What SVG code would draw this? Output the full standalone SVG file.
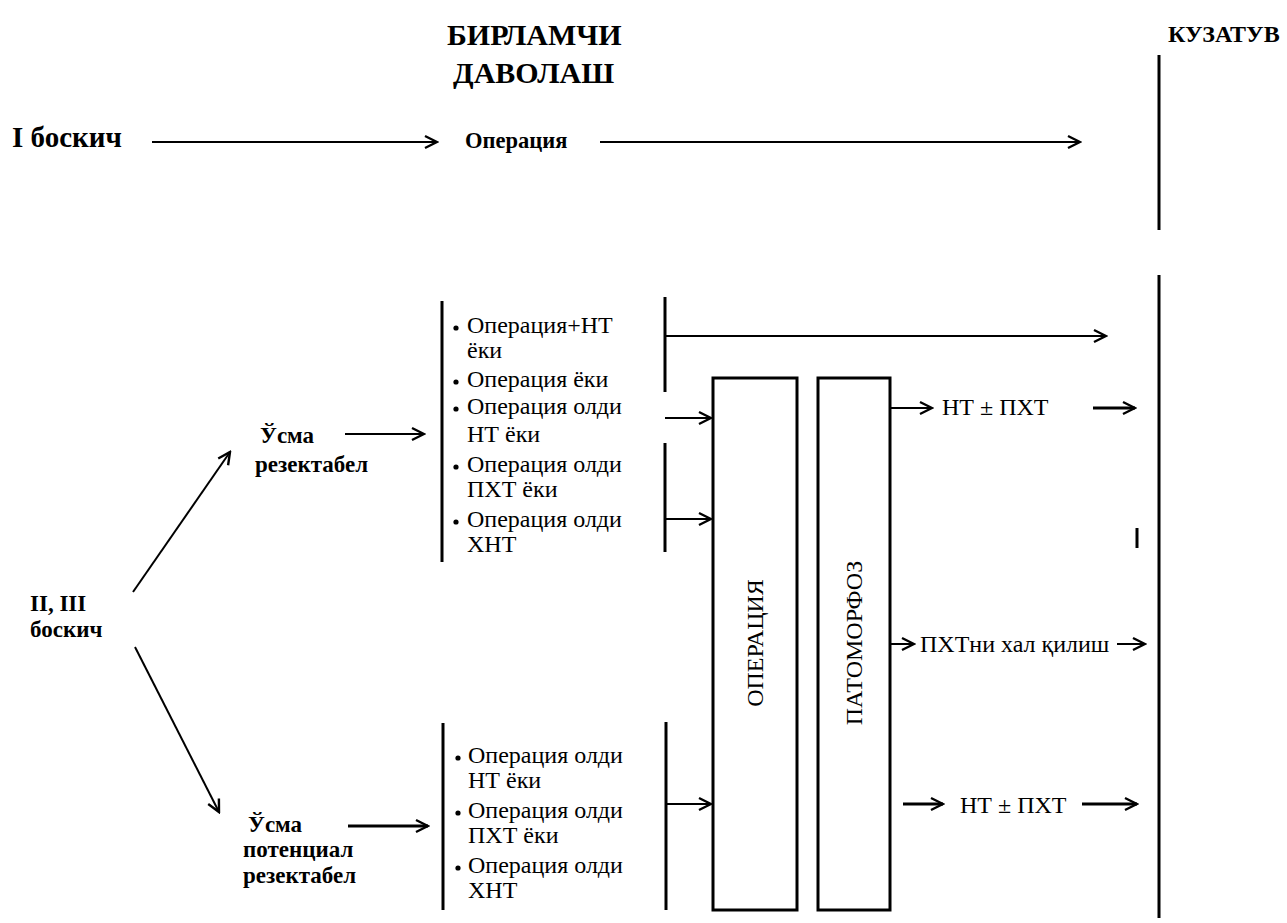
<svg xmlns="http://www.w3.org/2000/svg" width="1287" height="923" viewBox="0 0 1287 923">
<style>
text{font-family:"Liberation Serif","Times New Roman","DejaVu Serif",serif;fill:#000}
.b{font-weight:bold}
.r{font-size:24px}
.ln{stroke:#000;stroke-width:2;fill:none}
.lt{stroke:#000;stroke-width:3;fill:none}
.bar{stroke:#000;stroke-width:3;fill:none}
.box{stroke:#000;stroke-width:3;fill:#fff}
</style>
<defs>
<marker id="ah" viewBox="0 0 16 16" refX="14" refY="8" markerWidth="16" markerHeight="16" markerUnits="userSpaceOnUse" orient="auto">
<path d="M2,2 L14,8 L2,14" fill="none" stroke="#000" stroke-width="2.4"/>
</marker>
</defs>
<rect width="1287" height="923" fill="#fff"/>

<g id="title">
<text class="b" x="447" y="45" font-size="30">БИРЛАМЧИ</text>
<text class="b" x="453" y="83" font-size="30">ДАВОЛАШ</text>
</g>
<g id="kuzatuv">
<text class="b" x="1168" y="42" font-size="24">КУЗАТУВ</text>
</g>
<g id="stage1">
<text class="b" x="12" y="147" font-size="29">І боскич</text>
</g>
<g id="op-top">
<text class="b" x="465" y="148" font-size="22.5">Операция</text>
</g>
<g id="stage23">
<text class="b" x="30" y="611" font-size="23">ІІ, ІІІ</text>
<text class="b" x="30" y="637" font-size="23">боскич</text>
</g>
<g id="resectable">
<text class="b" x="260" y="443" font-size="23">Ўсма</text>
<text class="b" x="255" y="472" font-size="23">резектабел</text>
</g>
<g id="potential">
<text class="b" x="248" y="832" font-size="23">Ўсма</text>
<text class="b" x="243" y="857" font-size="23">потенциал</text>
<text class="b" x="243" y="883" font-size="23">резектабел</text>
</g>
<g id="list-top">
<circle cx="456" cy="328" r="2.6"/>
<text class="r" x="467" y="333">Операция+НТ</text>
<text class="r" x="467" y="358">ёки</text>
<circle cx="456" cy="382" r="2.6"/>
<text class="r" x="467" y="387">Операция ёки</text>
<circle cx="456" cy="409" r="2.6"/>
<text class="r" x="467" y="414">Операция олди</text>
<text class="r" x="467" y="442">НТ ёки</text>
<circle cx="456" cy="467" r="2.6"/>
<text class="r" x="467" y="472">Операция олди</text>
<text class="r" x="467" y="497">ПХТ ёки</text>
<circle cx="456" cy="522" r="2.6"/>
<text class="r" x="467" y="527">Операция олди</text>
<text class="r" x="467" y="552">ХНТ</text>
</g>
<g id="list-bottom">
<circle cx="458" cy="758" r="2.6"/>
<text class="r" x="468" y="763">Операция олди</text>
<text class="r" x="468" y="788">НТ ёки</text>
<circle cx="458" cy="813" r="2.6"/>
<text class="r" x="468" y="818">Операция олди</text>
<text class="r" x="468" y="843">ПХТ ёки</text>
<circle cx="458" cy="868" r="2.6"/>
<text class="r" x="468" y="873">Операция олди</text>
<text class="r" x="468" y="898">ХНТ</text>
</g>
<g id="box-operation">
<rect class="box" x="713" y="378" width="84" height="532"/>
<text class="r" transform="translate(763,643) rotate(-90)" text-anchor="middle">ОПЕРАЦИЯ</text>
</g>
<g id="box-pathomorphosis">
<rect class="box" x="818" y="378" width="72" height="532"/>
<text class="r" transform="translate(862,643) rotate(-90)" text-anchor="middle">ПАТОМОРФОЗ</text>
</g>
<g id="res1">
<text class="r" x="942" y="415" font-size="23">НТ ± ПХТ</text>
</g>
<g id="res2">
<text class="r" x="920" y="652" font-size="23">ПХТни хал қилиш</text>
</g>
<g id="res3">
<text class="r" x="960" y="813" font-size="23">НТ ± ПХТ</text>
</g>

<g id="connectors">
<line class="bar" x1="1159" y1="55" x2="1159" y2="230"/>
<line class="bar" x1="1159" y1="275" x2="1159" y2="918"/>
<line class="bar" x1="1137" y1="528" x2="1137" y2="548"/>
<line class="bar" x1="442" y1="301" x2="442" y2="562"/>
<line class="bar" x1="665" y1="297" x2="665" y2="392"/>
<line class="bar" x1="665" y1="443" x2="665" y2="552"/>
<line class="bar" x1="443" y1="723" x2="443" y2="910"/>
<line class="bar" x1="666" y1="722" x2="666" y2="910"/>

<line class="ln" x1="152" y1="142" x2="437" y2="142" marker-end="url(#ah)"/>
<line class="ln" x1="600" y1="142" x2="1080" y2="142" marker-end="url(#ah)"/>
<line class="ln" x1="665" y1="336" x2="1106" y2="336" marker-end="url(#ah)"/>
<line class="ln" x1="665" y1="418" x2="711" y2="418" marker-end="url(#ah)"/>
<line class="ln" x1="665" y1="519" x2="711" y2="519" marker-end="url(#ah)"/>
<line class="ln" x1="666" y1="804" x2="711" y2="804" marker-end="url(#ah)"/>
<line class="ln" x1="133" y1="592" x2="230" y2="452" marker-end="url(#ah)"/>
<line class="ln" x1="135" y1="647" x2="219" y2="812" marker-end="url(#ah)"/>
<line class="ln" x1="345" y1="434" x2="424" y2="434" marker-end="url(#ah)"/>
<line class="lt" x1="348" y1="826" x2="428" y2="826" marker-end="url(#ah)"/>
<line class="ln" x1="890" y1="408" x2="932" y2="408" marker-end="url(#ah)"/>
<line class="lt" x1="1093" y1="408" x2="1135" y2="408" marker-end="url(#ah)"/>
<line class="ln" x1="891" y1="644" x2="914" y2="644" marker-end="url(#ah)"/>
<line class="ln" x1="1117" y1="644" x2="1145" y2="644" marker-end="url(#ah)"/>
<line class="lt" x1="903" y1="804" x2="943" y2="804" marker-end="url(#ah)"/>
<line class="lt" x1="1082" y1="804" x2="1137" y2="804" marker-end="url(#ah)"/>
</g>
</svg>
